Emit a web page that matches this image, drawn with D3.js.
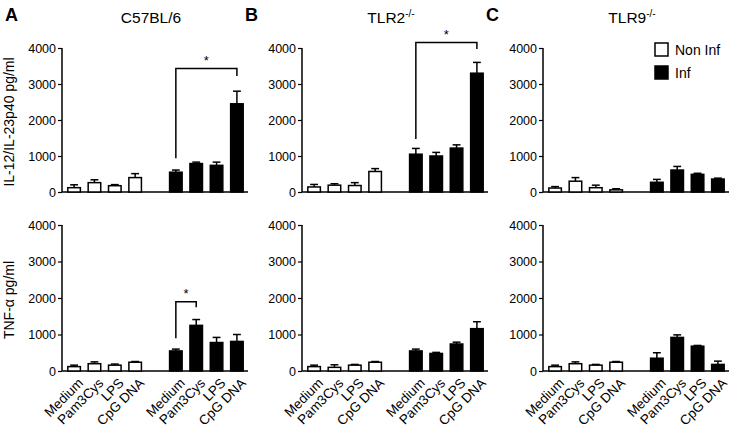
<!DOCTYPE html>
<html><head><meta charset="utf-8">
<script src="https://cdn.jsdelivr.net/npm/d3@7"></script>
<style>
body{margin:0;background:#fff;}
svg text{font-family:"Liberation Sans",Arial,sans-serif;fill:#000;}
</style></head>
<body><svg id="c" width="730" height="427"></svg>
<script>
const categories = ["Medium","Pam3Cys","LPS","CpG DNA"];
const groups = ["Non Inf","Inf"];
const panelLetters = ["A","B","C"];
const panelTitles = ["C57BL/6","TLR2","TLR9"];
const panelSup = ["","-/-","-/-"];
const rowLabels = ["IL-12/IL-23p40 pg/ml","TNF-\u03b1 pg/ml"];
const yTicks = [0,1000,2000,3000,4000];

// [panel][row] values
const nonInfMean = [[[120,260,175,400],[120,200,160,240]],
                    [[140,190,180,570],[120,100,160,240]],
                    [[110,300,120,60],[120,200,160,240]]];
const nonInfErr  = [[[80,80,30,110],[40,50,30,20]],
                    [[70,40,80,80],[40,70,20,20]],
                    [[40,100,70,30],[40,50,20,20]]];
const infMean    = [[[550,790,740,2450],[550,1250,780,810]],
                    [[1050,1000,1220,3300],[550,480,740,1160]],
                    [[270,610,490,360],[350,920,680,180]]];
const infErr     = [[[60,40,90,350],[50,160,140,190]],
                    [[160,100,90,300],[50,30,50,190]],
                    [[80,100,30,25],[150,70,20,90]]];
// significance brackets: panel, row, from cat, to cat (Inf group), level, left leg end, right leg end
const brPanel = [0,0,1];
const brRow = [0,1,0];
const brFrom = [0,0,0];
const brTo = [3,1,3];
const brLevel = [3430,1900,4150];
const brLeft = [940,900,1470];
const brRight = [3220,1750,3970];

const svg = d3.select("#c");
const axisX = [62,302,543];
const plotW = 186;
const rowsY = [[48,192],[225,371]];

const slots = [];
groups.forEach((g,gi)=>{ categories.forEach((c,ci)=>slots.push(g+"|"+c)); if(gi===0) slots.push("gap"); });

const yScales = rowsY.map(r=>d3.scaleLinear().domain([0,4000]).range([r[1],r[0]]));

panelLetters.forEach((L,p)=>{
  const x0 = axisX[p];
  const xs = d3.scaleBand().domain(slots).range([x0+1, x0+plotW]).paddingInner(0.31).paddingOuter(0.2);
  svg.append("text").attr("x",x0-57).attr("y",21).attr("font-size",18).attr("font-weight","bold").text(L);
  const t = svg.append("text").attr("x",x0+89).attr("y",23).attr("font-size",15.5).attr("text-anchor","middle").text(panelTitles[p]);
  if(panelSup[p]) t.append("tspan").attr("font-size",10).attr("dy",-6).text(panelSup[p]);

  rowsY.forEach((r,ri)=>{
    const y = yScales[ri];
    const g = svg.append("g");
    const ax = g.append("g").attr("transform",`translate(${x0},0)`)
      .call(d3.axisLeft(y).tickValues(yTicks).tickSize(4).tickPadding(2).tickFormat(d3.format("d")));
    ax.select(".domain").attr("stroke-width",1.5).attr("d",`M-0,${r[0]}V${r[1]}`);
    ax.selectAll(".tick line").attr("stroke-width",1.2);
    ax.selectAll(".tick text").attr("font-size",12.5).attr("font-family","Liberation Sans, Arial, sans-serif");
    g.append("line").attr("x1",x0).attr("x2",x0+plotW).attr("y1",r[1]).attr("y2",r[1]).attr("stroke","#000").attr("stroke-width",1.5);

    const data = [];
    categories.forEach((c,ci)=>{
      data.push({key:"Non Inf|"+c, m:nonInfMean[p][ri][ci], e:nonInfErr[p][ri][ci], fill:"#fff"});
    });
    categories.forEach((c,ci)=>{
      data.push({key:"Inf|"+c, m:infMean[p][ri][ci], e:infErr[p][ri][ci], fill:"#000"});
    });
    const bw = xs.bandwidth();
    data.forEach(d=>{
      const cx = xs(d.key)+bw/2;
      g.append("line").attr("x1",cx).attr("x2",cx).attr("y1",y(d.m)).attr("y2",y(d.m+d.e)).attr("stroke","#000").attr("stroke-width",1.5);
      g.append("line").attr("x1",cx-bw*0.28).attr("x2",cx+bw*0.28).attr("y1",y(d.m+d.e)).attr("y2",y(d.m+d.e)).attr("stroke","#000").attr("stroke-width",1.5);
    });
    g.selectAll("rect.bar").data(data).enter().append("rect")
      .attr("x",d=>xs(d.key)+0.75).attr("width",bw-1.5)
      .attr("y",d=>y(d.m)).attr("height",d=>y(0)-y(d.m))
      .attr("fill",d=>d.fill).attr("stroke","#000").attr("stroke-width",1.5);

    if(p===0){
      svg.append("text").attr("transform",`translate(14,${(r[0]+r[1])/2 + 2}) rotate(-90)`)
        .attr("text-anchor","middle").attr("font-size",14).text(rowLabels[ri]);
    }
    if(ri===1){
      data.forEach(d=>{
        const cx = xs(d.key)+bw/2;
        svg.append("text").attr("transform",`translate(${cx+3},${r[1]+6}) rotate(-45)`)
          .attr("text-anchor","end").attr("dy","0.72em").attr("font-size",13.5).text(d.key.split("|")[1]);
      });
    }
  });

  brPanel.forEach((bp,i)=>{
    if(bp!==p) return;
    const y = yScales[brRow[i]];
    const xa = xs("Inf|"+categories[brFrom[i]])+xs.bandwidth()/2;
    const xb = xs("Inf|"+categories[brTo[i]])+xs.bandwidth()/2;
    svg.append("path").attr("d",`M${xa},${y(brLeft[i])}V${y(brLevel[i])}H${xb}V${y(brRight[i])}`)
      .attr("fill","none").attr("stroke","#000").attr("stroke-width",1.5);
    svg.append("text").attr("x",(xa+xb)/2).attr("y",y(brLevel[i])-4).attr("text-anchor","middle").attr("font-size",13).text("*");
  });
});

const lg = svg.append("g");
groups.forEach((gname,i)=>{
  lg.append("rect").attr("x",655).attr("y",43+i*23).attr("width",13).attr("height",13)
    .attr("fill",i===0?"#fff":"#000").attr("stroke","#000").attr("stroke-width",1.5);
  lg.append("text").attr("x",675).attr("y",55+i*23).attr("font-size",14).text(gname);
});
</script></body></html>
